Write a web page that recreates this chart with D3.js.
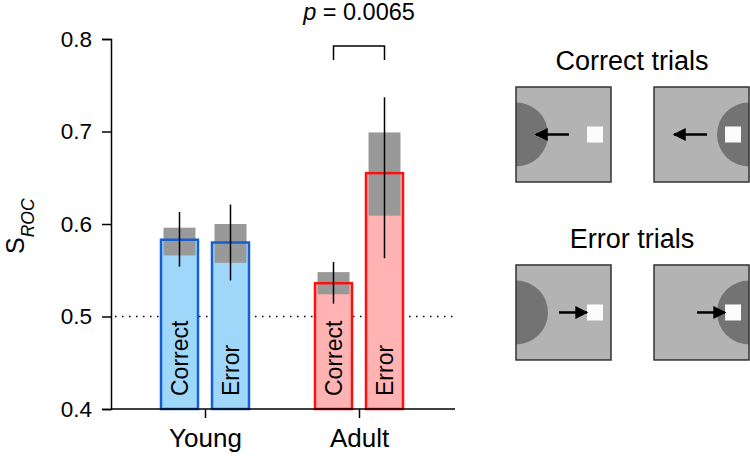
<!DOCTYPE html>
<html>
<head>
<meta charset="utf-8">
<script src="https://cdn.jsdelivr.net/npm/d3@7"></script>
<style>
  body { margin: 0; background: #fff; }
  svg { font-family: "Liberation Sans", Arial, sans-serif; }
</style>
</head>
<body>
<div id="chart"></div>
<script>
// Data
const groups = ["Young", "Adult"];
const conditions = ["Correct", "Error"];
const means = [[0.583, 0.580], [0.536, 0.655]];
const boxLow = [[0.566, 0.558], [0.524, 0.609]];
const boxHigh = [[0.596, 0.600], [0.548, 0.699]];
const errLow = [[0.554, 0.539], [0.514, 0.563]];
const errHigh = [[0.613, 0.621], [0.559, 0.737]];
const yTicks = [0.4, 0.5, 0.6, 0.7, 0.8];
const chance = 0.5;
const pLabel = "0.0065";

// Trial illustration panels
const panelRows = ["Correct trials", "Error trials"];
const panelSides = ["left", "right"];

const width = 750, height = 467;
const svg = d3.select("#chart").append("svg")
    .attr("width", width)
    .attr("height", height);

const y = d3.scaleLinear().domain([0.4, 0.8]).range([409, 39]);
const xg = d3.scalePoint().domain(groups).range([205, 359]);
const xc = d3.scaleBand().domain(conditions).range([-44, 44]).paddingInner(0.2745);
const fills = { Young: "#9fd7fb", Adult: "#ffb3b3" };
const strokes = { Young: "#1560d0", Adult: "#ff1010" };

const bars = [];
groups.forEach((g, gi) => conditions.forEach((c, ci) => bars.push({
    g, c, mean: means[gi][ci], lo: boxLow[gi][ci], hi: boxHigh[gi][ci],
    elo: errLow[gi][ci], ehi: errHigh[gi][ci]
})));
const bx = d => xg(d.g) + xc(d.c);
const bw = xc.bandwidth();

// chance line
svg.append("line")
    .attr("x1", 115).attr("x2", 455)
    .attr("y1", y(chance)).attr("y2", y(chance))
    .attr("stroke", "#000").attr("stroke-width", 1.5)
    .attr("stroke-dasharray", "1.5,5.5");

// bar fills
svg.selectAll("rect.fill").data(bars).enter().append("rect")
    .attr("class", "fill")
    .attr("x", bx).attr("width", bw)
    .attr("y", d => y(d.mean)).attr("height", d => y(0.4) - y(d.mean))
    .attr("fill", d => fills[d.g]);

// grey boxes
svg.selectAll("rect.box").data(bars).enter().append("rect")
    .attr("class", "box")
    .attr("x", d => bx(d) + 2.5).attr("width", bw - 5)
    .attr("y", d => y(d.hi)).attr("height", d => y(d.lo) - y(d.hi))
    .attr("fill", "#999999");

// bar outlines
svg.selectAll("rect.outline").data(bars).enter().append("rect")
    .attr("class", "outline")
    .attr("x", bx).attr("width", bw)
    .attr("y", d => y(d.mean)).attr("height", d => y(0.4) - y(d.mean))
    .attr("fill", "none")
    .attr("stroke", d => strokes[d.g]).attr("stroke-width", 2.5);

// error lines
svg.selectAll("line.err").data(bars).enter().append("line")
    .attr("class", "err")
    .attr("x1", d => bx(d) + bw / 2).attr("x2", d => bx(d) + bw / 2)
    .attr("y1", d => y(d.ehi)).attr("y2", d => y(d.elo))
    .attr("stroke", "#000").attr("stroke-width", 1.5);

// labels inside bars
svg.selectAll("text.blabel").data(bars).enter().append("text")
    .attr("class", "blabel")
    .attr("transform", d => `translate(${bx(d) + bw / 2},396) rotate(-90)`)
    .attr("dy", "0.36em")
    .attr("font-size", 23)
    .text(d => d.c);

// axes
const yAxis = svg.append("g")
    .attr("transform", "translate(111,0)")
    .call(d3.axisLeft(y).tickValues(yTicks).tickFormat(d3.format(".1f")).tickSize(9).tickPadding(10));
const xAxis = svg.append("g")
    .attr("transform", `translate(0,${y(0.4)})`)
    .call(d3.axisBottom(xg).tickSize(9).tickPadding(11));
xAxis.select(".domain").attr("d", "M111,0H455");
[yAxis, xAxis].forEach(a => {
    a.selectAll("path, line").attr("stroke", "#000").attr("stroke-width", 1.5);
    a.selectAll("text").attr("font-family", "Liberation Sans, Arial, sans-serif").attr("fill", "#000");
});
yAxis.selectAll("text").attr("font-size", 22.5);
xAxis.selectAll("text").attr("font-size", 26);

// y label
const yl = svg.append("text")
    .attr("transform", "translate(24,254) rotate(-90)")
    .attr("font-size", 25);
yl.append("tspan").text("S");
yl.append("tspan").attr("dy", 10).attr("font-size", 17.5).attr("font-style", "italic").text("ROC");

// significance bracket
const xA = xg("Adult");
const bl = xA + xc("Correct") + bw / 2, br = xA + xc("Error") + bw / 2;
svg.append("path")
    .attr("d", `M${bl},60V46H${br}V60`)
    .attr("fill", "none").attr("stroke", "#000").attr("stroke-width", 1.5);
const pt = svg.append("text")
    .attr("x", (bl + br) / 2).attr("y", 20)
    .attr("text-anchor", "middle").attr("font-size", 23.5);
pt.append("tspan").attr("font-style", "italic").text("p");
pt.append("tspan").text(" = " + pLabel);

// illustration panels
const px = d3.scaleBand().domain(panelSides).range([516, 749]).paddingInner(0.312);
const py = d3.scaleBand().domain(panelRows).range([87, 360]).paddingInner(0.466);
const ps = 95;
const defs = svg.append("defs");
defs.append("marker").attr("id", "head")
    .attr("viewBox", "0 0 10 10").attr("refX", 9).attr("refY", 5)
    .attr("markerWidth", 5.6).attr("markerHeight", 5.2).attr("orient", "auto")
    .append("path").attr("d", "M0,0L10,5L0,10Z").attr("fill", "#000");

panelRows.forEach((row, ri) => {
    const y0 = py(row);
    svg.append("text")
        .attr("x", 632).attr("y", y0 - 17)
        .attr("text-anchor", "middle").attr("font-size", 27)
        .text(row);
    panelSides.forEach(side => {
        const x0 = px(side);
        const cy = y0 + ps / 2;
        const id = `clip-${ri}-${side}`;
        defs.append("clipPath").attr("id", id)
            .append("rect").attr("x", x0).attr("y", y0).attr("width", ps).attr("height", ps);
        const g = svg.append("g");
        g.append("rect").attr("x", x0).attr("y", y0).attr("width", ps).attr("height", ps)
            .attr("fill", "#b3b3b3");
        g.append("circle").attr("cx", side === "left" ? x0 : x0 + ps).attr("cy", cy).attr("r", 32)
            .attr("fill", "#737373").attr("clip-path", `url(#${id})`);
        g.append("rect").attr("x", x0 + 71).attr("y", cy - 8).attr("width", 16).attr("height", 16)
            .attr("fill", "#fcfcfc");
        const ax1 = ri === 0 ? x0 + 53 : x0 + 43;
        const ax2 = ri === 0 ? x0 + 20 : x0 + 71;
        g.append("line").attr("x1", ax1).attr("x2", ax2).attr("y1", cy).attr("y2", cy)
            .attr("stroke", "#000").attr("stroke-width", 2.5).attr("marker-end", "url(#head)");
        g.append("rect").attr("x", x0).attr("y", y0).attr("width", ps).attr("height", ps)
            .attr("fill", "none").attr("stroke", "#333").attr("stroke-width", 1.5);
    });
});
</script>
</body>
</html>
